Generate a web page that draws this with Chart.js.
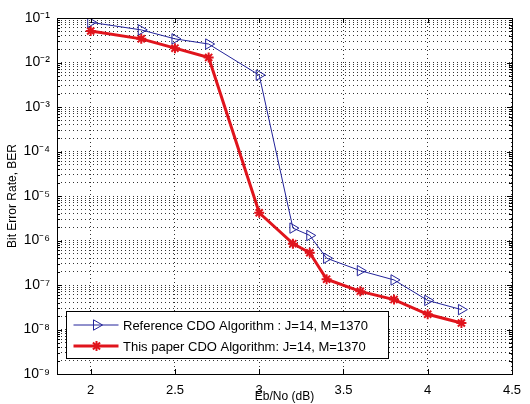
<!DOCTYPE html>
<html>
<head>
<meta charset="utf-8">
<script src="https://cdn.jsdelivr.net/npm/chart.js@4"></script>
<style>
    body { margin: 0; background: #fff; }
    #caja { width: 530px; height: 404px; }
</style>
</head>
<body>
<div id="caja"><canvas id="berChart" width="530" height="404"></canvas></div>
<script>
/* datos */
const ebno = [2, 2.3, 2.5, 2.7, 3, 3.2, 3.3, 3.4, 3.6, 3.8, 4, 4.2];
const berReferencia = [8e-2, 5.4e-2, 3.4e-2, 2.6e-2, 5.2e-3, 1.9e-6, 1.3e-6, 4e-7, 2.1e-7, 1.3e-7, 4.5e-8, 2.8e-8];
const berPropuesto = [5.1e-2, 3.4e-2, 2.1e-2, 1.3e-2, 4.2e-6, 8.5e-7, 5.3e-7, 1.35e-7, 7.2e-8, 4.7e-8, 2.2e-8, 1.4e-8];
const ticksX = [2, 2.5, 3, 3.5, 4, 4.5];
const decadasY = [-9, -8, -7, -6, -5, -4, -3, -2, -1];
const etiquetas = [
    "Reference CDO Algorithm : J=14, M=1370",
    "This paper CDO Algorithm: J=14, M=1370",
];

const FUENTE = "'Liberation Sans', Arial, sans-serif";
const sup = { "-": "\u207B", "0": "\u2070", "1": "\u00B9", "2": "\u00B2", "3": "\u00B3", "4": "\u2074", "5": "\u2075", "6": "\u2076", "7": "\u2077", "8": "\u2078", "9": "\u2079" };

function superIndice(n) {
    return String(n).split("").map((c) => sup[c]).join("");
}

// ticks del eje log: 1..9 por cada decada
function ticksLog() {
    const lista = [];
    decadasY.forEach(function (d) {
        const kMax = d === -1 ? 1 : 9;
        for (let k = 1; k <= kMax; k++) {
            lista.push({ value: k * Math.pow(10, d) });
        }
    });
    return lista;
}

function esDecada(v) {
    const l = Math.log10(v);
    return Math.abs(l - Math.round(l)) < 1e-6;
}

/* marco, ticks interiores y leyenda estilo matlab */
const marcoMatlab = {
    id: "marcoMatlab",
    afterDatasetsDraw(chart) {
        const ctx = chart.ctx;
        const a = chart.chartArea;
        const sy = chart.scales.y;
        const sx = chart.scales.x;
        ctx.save();
        ctx.strokeStyle = "#000";
        ctx.lineWidth = 1;
        ctx.setLineDash([]);
        ctx.beginPath();
        sy.ticks.forEach(function (t) {
            const y = Math.round(sy.getPixelForValue(t.value)) + 0.5;
            const largo = esDecada(t.value) ? 5 : 3;
            ctx.moveTo(a.left, y); ctx.lineTo(a.left + largo, y);
            ctx.moveTo(a.right, y); ctx.lineTo(a.right - largo, y);
        });
        sx.ticks.forEach(function (t) {
            const x = Math.round(sx.getPixelForValue(t.value)) + 0.5;
            ctx.moveTo(x, a.bottom); ctx.lineTo(x, a.bottom - 5);
            ctx.moveTo(x, a.top); ctx.lineTo(x, a.top + 5);
        });
        ctx.stroke();
        ctx.strokeRect(Math.round(a.left) + 0.5, Math.round(a.top) + 0.5, Math.round(a.right - a.left), Math.round(a.bottom - a.top));

        // leyenda
        const lx = Math.round(a.left) + 9.5, ly = Math.round(a.bottom) - 62.5, lw = 322, lh = 47;
        ctx.fillStyle = "#fff";
        ctx.fillRect(lx, ly, lw, lh);
        ctx.strokeRect(lx, ly, lw, lh);
        chart.data.datasets.forEach(function (ds, i) {
            const y = Math.round(ly + 13 + i * 21);
            ctx.strokeStyle = ds.borderColor;
            ctx.lineWidth = ds.borderWidth;
            ctx.beginPath();
            ctx.moveTo(lx + 7, y);
            ctx.lineTo(lx + 52, y);
            ctx.stroke();
            ctx.fillStyle = ds.pointBackgroundColor;
            ctx.lineWidth = ds.pointBorderWidth;
            Chart.helpers.drawPoint(ctx, {
                pointStyle: ds.pointStyle,
                rotation: ds.pointRotation || 0,
                radius: ds.pointRadius,
                borderWidth: ds.pointBorderWidth,
            }, lx + 30, y);
            ctx.font = "13px " + FUENTE;
            ctx.textBaseline = "middle";
            ctx.fillStyle = "#000";
            ctx.fillText(ds.label, Math.round(lx + 56), y + 1);
        });
        ctx.restore();
    },
};

document.addEventListener("DOMContentLoaded", function () {
    new Chart(document.getElementById("berChart"), {
        type: "line",
        data: {
            datasets: [
                {
                    label: etiquetas[0],
                    data: ebno.map((x, i) => ({ x: x, y: berReferencia[i] })),
                    borderColor: "#23239a",
                    borderWidth: 1,
                    pointStyle: "triangle",
                    pointRotation: 90,
                    pointRadius: 6,
                    pointBorderWidth: 1,
                    pointBackgroundColor: "rgba(0,0,0,0)",
                    pointBorderColor: "#23239a",
                    tension: 0,
                },
                {
                    label: etiquetas[1],
                    data: ebno.map((x, i) => ({ x: x, y: berPropuesto[i] })),
                    borderColor: "#e0141c",
                    borderWidth: 3,
                    pointStyle: "star",
                    pointRadius: 5,
                    pointBorderWidth: 2,
                    pointBackgroundColor: "#e0141c",
                    pointBorderColor: "#e0141c",
                    tension: 0,
                },
            ],
        },
        options: {
            responsive: false,
            animation: false,
            layout: { padding: { top: 18, right: 11, left: 0, bottom: 0 } },
            plugins: {
                legend: { display: false },
                tooltip: { enabled: false },
            },
            scales: {
                x: {
                    type: "linear",
                    min: 1.8,
                    max: 4.5,
                    afterBuildTicks: (s) => { s.ticks = ticksX.map((v) => ({ value: v })); },
                    afterFit: (s) => { s.height = 30; },
                    border: { display: false, dash: [1, 3] },
                    grid: {
                        color: "#333",
                        drawTicks: false,
                        lineWidth: 1,
                    },
                    ticks: {
                        color: "#000",
                        padding: 9,
                        font: { family: FUENTE, size: 13 },
                        maxRotation: 0,
                        callback: (v) => String(v),
                    },
                    title: {
                        display: true,
                        text: "Eb/No (dB)",
                        color: "#000",
                        font: { family: FUENTE, size: 12 },
                        padding: { top: 0, bottom: 0 },
                    },
                },
                y: {
                    type: "logarithmic",
                    min: 1e-9,
                    max: 1e-1,
                    afterBuildTicks: (s) => { s.ticks = ticksLog(); },
                    afterFit: (s) => { s.width = 57; },
                    border: { display: false, dash: [1, 3] },
                    grid: {
                        color: "#333",
                        drawTicks: false,
                        lineWidth: 1,
                    },
                    ticks: {
                        color: "#000",
                        padding: 7,
                        autoSkip: false,
                        font: { family: FUENTE, size: 14 },
                        callback: function (v) {
                            if (!esDecada(v)) return "";
                            return "10" + superIndice(Math.round(Math.log10(v)));
                        },
                    },
                    title: {
                        display: true,
                        text: "Bit Error Rate, BER",
                        color: "#000",
                        font: { family: FUENTE, size: 12 },
                        padding: { top: 5, bottom: 0 },
                    },
                },
            },
        },
        plugins: [marcoMatlab],
    });
});
</script>
</body>
</html>
